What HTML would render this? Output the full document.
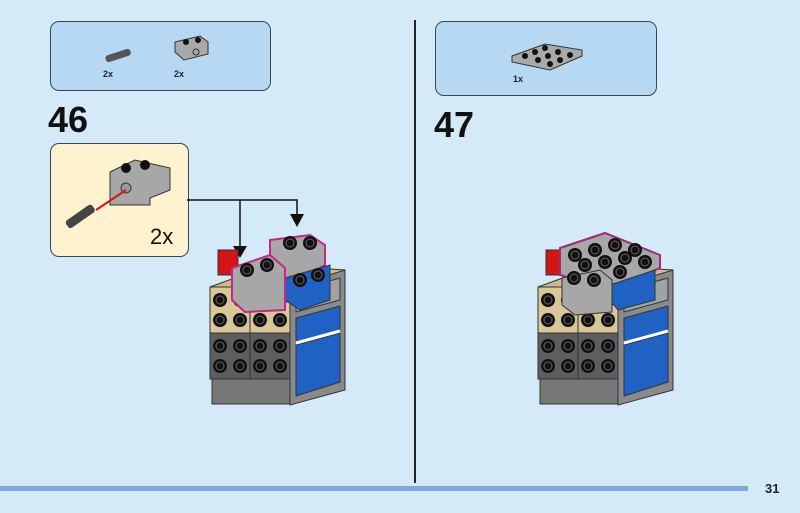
<!DOCTYPE html>
<html><head><meta charset="utf-8"><style>
html,body{margin:0;padding:0}
body{width:800px;height:513px;background:#d5eaf9;position:relative;overflow:hidden;font-family:"Liberation Sans",sans-serif}
.panel{position:absolute;background:#b6d8f2;border:1.5px solid #3a4650;border-radius:9px}
.t{position:absolute;font-weight:bold;color:#222}
</style></head><body>
<div class="panel" style="left:50px;top:21px;width:219px;height:68px"></div>
<div class="panel" style="left:435px;top:21px;width:220px;height:73px"></div>
<div class="panel" style="left:50px;top:143px;width:137px;height:112px;background:#fff3cf"></div>
<div style="position:absolute;left:414px;top:20px;width:2px;height:463px;background:#222"></div>
<div style="position:absolute;left:0;top:486px;width:748px;height:5px;background:#7fa6dc"></div>
<div class="t" style="left:765px;top:481px;font-size:13px">31</div>
<div class="t" style="left:103px;top:69px;font-size:9px">2x</div>
<div class="t" style="left:174px;top:69px;font-size:9px">2x</div>
<div class="t" style="left:513px;top:74px;font-size:9px">1x</div>
<div class="t" style="left:48px;top:99px;font-size:36px;color:#111">46</div>
<div class="t" style="left:434px;top:104px;font-size:36px;color:#111">47</div>
<div class="t" style="left:150px;top:224px;font-size:22px;font-weight:normal;color:#111">2x</div>
<svg width="800" height="513" style="position:absolute;left:0;top:0">
<defs>
<g id="stud"><circle r="7" fill="#111"/><circle r="4" fill="none" stroke="#666" stroke-width="1"/></g>
<g id="cube">
 <rect x="218" y="250" width="20" height="25" fill="#d41515" stroke="#333"/>
 <polygon points="290,285 345,270 345,390 290,405" fill="#8a8a8a" stroke="#333"/>
 <polygon points="296,290 340,278 340,300 296,312" fill="#9fa3a6" stroke="#333"/>
 <polygon points="296,318 340,306 340,330 296,342" fill="#1f62c4" stroke="#333"/>
 <polygon points="296,345 340,333 340,382 296,396" fill="#1f62c4" stroke="#333"/>
 <line x1="296" y1="343" x2="340" y2="331" stroke="#fff" stroke-width="3"/>
 <rect x="210" y="287" width="40" height="46" fill="#d9c798" stroke="#333"/>
 <rect x="250" y="287" width="40" height="46" fill="#d9c798" stroke="#333"/>
 <rect x="210" y="333" width="40" height="46" fill="#5e5e5e" stroke="#333"/>
 <rect x="250" y="333" width="40" height="46" fill="#5e5e5e" stroke="#333"/>
 <rect x="212" y="379" width="78" height="25" fill="#777" stroke="#333"/>
 <polygon points="210,287 290,287 345,270 270,265" fill="#cdbb8c" stroke="#333"/>
 <use href="#stud" x="220" y="300"/><use href="#stud" x="240" y="300"/><use href="#stud" x="220" y="320"/><use href="#stud" x="240" y="320"/>
 <use href="#stud" x="260" y="300"/><use href="#stud" x="280" y="300"/><use href="#stud" x="260" y="320"/><use href="#stud" x="280" y="320"/>
 <use href="#stud" x="220" y="346"/><use href="#stud" x="240" y="346"/><use href="#stud" x="220" y="366"/><use href="#stud" x="240" y="366"/>
 <use href="#stud" x="260" y="346"/><use href="#stud" x="280" y="346"/><use href="#stud" x="260" y="366"/><use href="#stud" x="280" y="366"/>
</g>
</defs>
<rect x="105" y="52" width="26" height="7" rx="3" fill="#555" transform="rotate(-18 118 55)"/>
<polygon points="175,42 200,36 208,42 208,54 184,60 175,52" fill="#a9a9a9" stroke="#333"/>
<circle cx="186" cy="42" r="3" fill="#111"/><circle cx="198" cy="40" r="3" fill="#111"/><circle cx="196" cy="52" r="3" fill="none" stroke="#333"/>
<polygon points="512,56 545,44 582,50 582,56 550,70 512,62" fill="#a9a9a9" stroke="#333"/>
<g fill="#111"><circle cx="525" cy="56" r="3"/><circle cx="535" cy="52" r="3"/><circle cx="545" cy="48" r="3"/><circle cx="538" cy="60" r="3"/><circle cx="548" cy="56" r="3"/><circle cx="558" cy="52" r="3"/><circle cx="550" cy="64" r="3"/><circle cx="560" cy="60" r="3"/><circle cx="570" cy="55" r="3"/></g>
<polygon points="110,172 135,160 170,168 170,190 150,198 150,205 110,205" fill="#a7a7a7" stroke="#333"/>
<circle cx="126" cy="168" r="5" fill="#111"/><circle cx="145" cy="165" r="5" fill="#111"/><circle cx="126" cy="188" r="5" fill="#999" stroke="#333"/>
<line x1="96" y1="210" x2="126" y2="190" stroke="#d41515" stroke-width="2"/>
<rect x="64" y="212" width="32" height="9" rx="3" fill="#444" transform="rotate(-35 80 216)"/>
<polyline points="187,200 297,200 297,222" fill="none" stroke="#111" stroke-width="1.5"/>
<line x1="240" y1="200" x2="240" y2="252" stroke="#111" stroke-width="1.5"/>
<polygon points="233,246 247,246 240,258" fill="#111"/><polygon points="290,214 304,214 297,227" fill="#111"/>
<use href="#cube"/>
<polygon points="270,240 310,235 325,245 325,265 290,285 270,270" fill="#a7a7a7" stroke="#c0288a" stroke-width="2"/>
<polygon points="285,278 330,265 330,300 300,310 285,300" fill="#1f62c4" stroke="#333"/>
<use href="#stud" x="300" y="280"/><use href="#stud" x="318" y="275"/><use href="#stud" x="290" y="243"/><use href="#stud" x="310" y="243"/>
<polygon points="232,268 270,255 285,268 285,310 245,312 232,300" fill="#a7a7a7" stroke="#c0288a" stroke-width="2"/>
<use href="#stud" x="247" y="270"/><use href="#stud" x="267" y="265"/>
<use href="#cube" transform="translate(328 0)"/>
<polygon points="560,248 605,233 660,255 660,268 610,290 560,275" fill="#a7a7a7" stroke="#9e2a7a" stroke-width="2"/>
<polygon points="610,285 655,270 655,300 618,310 610,300" fill="#1f62c4" stroke="#333"/>
<g><use href="#stud" x="575" y="255"/><use href="#stud" x="595" y="250"/><use href="#stud" x="615" y="245"/><use href="#stud" x="635" y="250"/><use href="#stud" x="585" y="265"/><use href="#stud" x="605" y="262"/><use href="#stud" x="625" y="258"/><use href="#stud" x="645" y="262"/><use href="#stud" x="620" y="272"/></g>
<polygon points="562,278 600,270 612,280 612,312 575,315 562,305" fill="#a7a7a7" stroke="#333"/>
<use href="#stud" x="574" y="278"/><use href="#stud" x="594" y="280"/>
</svg>
</body></html>
